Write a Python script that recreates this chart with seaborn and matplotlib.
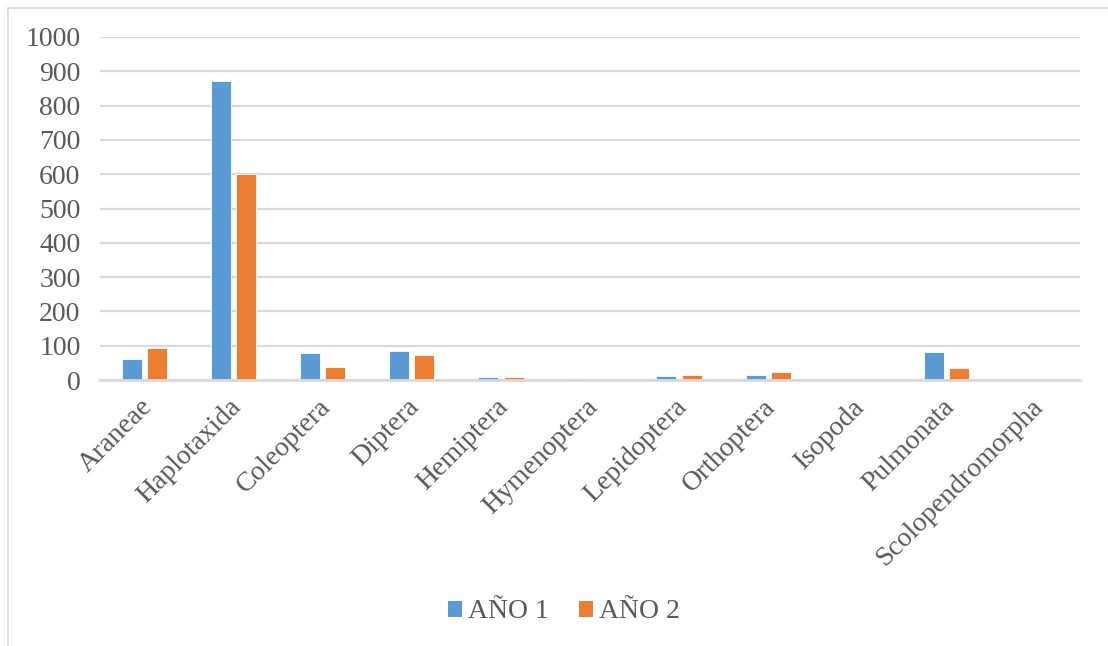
import matplotlib
matplotlib.use("Agg")
import matplotlib.pyplot as plt
import matplotlib.transforms as mtransforms
import seaborn as sns
import pandas as pd
from matplotlib.patches import Patch
from matplotlib.lines import Line2D

# Abundance by taxonomic order for two sampling years
categories = ["Araneae", "Haplotaxida", "Coleoptera", "Diptera", "Hemiptera",
              "Hymenoptera", "Lepidoptera", "Orthoptera", "Isopoda",
              "Pulmonata", "Scolopendromorpha"]
year1 = [60, 872, 80, 86, 8, 3, 11, 16, 0, 83, 0]
year2 = [92, 600, 38, 74, 8, 1, 16, 23, 0, 34, 0]
series_names = ["AÑO 1", "AÑO 2"]
yticks = [0, 100, 200, 300, 400, 500, 600, 700, 800, 900, 1000]

df = pd.DataFrame({
    "taxon": categories * 2,
    "value": year1 + year2,
    "serie": [series_names[0]] * len(categories) + [series_names[1]] * len(categories),
})

sns.set_theme(style="white")
plt.rcParams["font.family"] = ["Liberation Serif", "DejaVu Serif"]

text_color = "#595959"
grid_color = "#D9D9D9"
palette = {"AÑO 1": "#5B9BD5", "AÑO 2": "#ED7D31"}
fs = 20

fig = plt.figure(figsize=(11.08, 6.46), dpi=100)
ax = fig.add_axes([100 / 1108, 1 - 380 / 646, 980 / 1108, 343 / 646])

sns.barplot(data=df, x="taxon", y="value", hue="serie", palette=palette,
            order=categories, hue_order=series_names, width=0.568, gap=0.21,
            saturation=1, edgecolor="white", linewidth=0.6, ax=ax, legend=False)

ax.set_ylim(0, 1000)
ax.set_xlim(-0.5, len(categories) - 0.5)
ax.set_yticks(yticks)
ax.set_yticklabels([str(v) for v in yticks])
ax.yaxis.grid(True, color=grid_color, linewidth=1.6)
ax.set_axisbelow(True)
for s in ["top", "right", "left"]:
    ax.spines[s].set_visible(False)
ax.spines["bottom"].set_color(grid_color)
ax.spines["bottom"].set_linewidth(2)
ax.set_xlabel("")
ax.set_ylabel("")
ax.tick_params(axis="y", length=0, pad=14, labelsize=fs, labelcolor=text_color)
ax.tick_params(axis="x", length=0, pad=6, labelsize=fs, labelcolor=text_color)
shift = mtransforms.ScaledTranslation(4 / 100, -15 / 100, fig.dpi_scale_trans)
for lbl in ax.get_xticklabels():
    lbl.set_rotation(45)
    lbl.set_ha("right")
    lbl.set_va("center")
    lbl.set_rotation_mode("anchor")
    lbl.set_transform(lbl.get_transform() + shift)

# Outer chart frame
fig.add_artist(Line2D([8 / 1108, 8 / 1108], [0, 1 - 8 / 646],
                      transform=fig.transFigure, color=grid_color, linewidth=1.2))
fig.add_artist(Line2D([8 / 1108, 1], [1 - 8 / 646, 1 - 8 / 646],
                      transform=fig.transFigure, color=grid_color, linewidth=1.2))

handles = [Patch(facecolor=palette[n], edgecolor="none") for n in series_names]
fig.legend(handles, series_names, loc="center", bbox_to_anchor=(564 / 1108, 1 - 612 / 646),
           ncol=2, frameon=False, fontsize=fs, labelcolor=text_color,
           handlelength=0.5, handleheight=0.5, handletextpad=0.2, columnspacing=1.1)

fig.savefig("out.png", dpi=100, facecolor="white")
